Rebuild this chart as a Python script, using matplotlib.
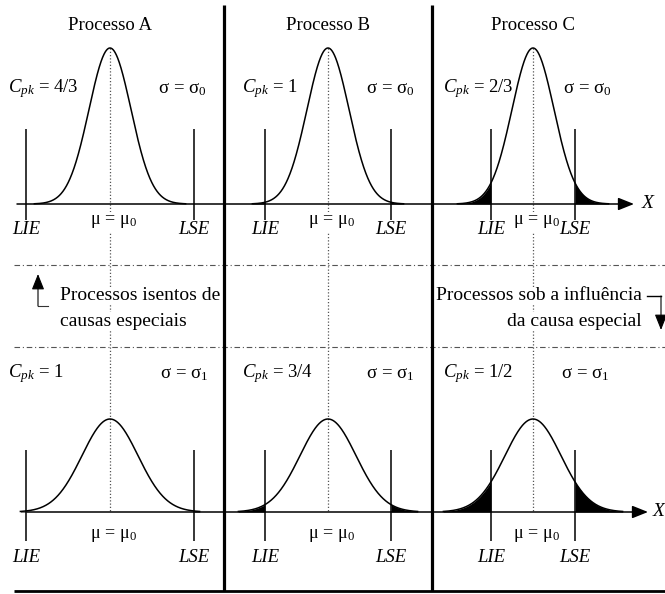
import numpy as np
import matplotlib.pyplot as plt

plt.rcParams['font.family'] = 'Liberation Serif'
plt.rcParams['mathtext.fontset'] = 'custom'
plt.rcParams['mathtext.rm'] = 'Liberation Serif'
plt.rcParams['mathtext.it'] = 'Liberation Serif:italic'

# processes and capability indices
titles = ['Processo A', 'Processo B', 'Processo C']
cpk_top = [4/3, 1, 2/3]
cpk_top_lbl = ['4/3', '1', '2/3']
cpk_bot = [1, 3/4, 1/2]
cpk_bot_lbl = ['1', '3/4', '1/2']
sigma0 = 1.0
sigma1 = 4/3
mu0 = 0.0

W, H = 665, 594
fig = plt.figure(figsize=(W / 100, H / 100), dpi=100)

# page in pixel coordinates, origin top-left
page = fig.add_axes([0, 0, 1, 1])
page.set_xlim(0, W)
page.set_ylim(H, 0)
page.axis('off')

col_edges = [0, 224, 432, 665]
col_mu = [110, 328, 533]
px_sigma = 21  # pixels per sigma0

rows = [
    dict(band=(0, 262), axis=204, peak=156, sig=sigma0, cpk=cpk_top, lbl=cpk_top_lbl,
         sub='0', up=75, down=16, mu_y=222, lim_y=229, txt_y=89, span=3.6,
         sig_x=[182, 390, 587]),
    dict(band=(346, 594), axis=512, peak=93, sig=sigma1, cpk=cpk_bot, lbl=cpk_bot_lbl,
         sub='1', up=62, down=29, mu_y=535, lim_y=557, txt_y=374, span=3.2,
         sig_x=[184, 390, 585]),
]
cpk_x = [8, 242, 443]


def pdf(x, s):
    return np.exp(-0.5 * ((x - mu0) / s) ** 2) / (s * np.sqrt(2 * np.pi))


# dotted centre lines through both rows
for cx in col_mu:
    page.plot([cx, cx], [rows[0]['axis'] - rows[0]['peak'], rows[1]['axis']],
              color='#555555', lw=0.9, ls=(0, (1, 1.6)), zorder=1)

# dash-dot separators of the middle band
for yy in [265, 347]:
    page.plot([14, W], [yy, yy], color='#555555', lw=0.8, ls=(0, (5, 2.5, 1, 2.5)), zorder=1)

arrow = dict(arrowstyle='-|>,head_length=0.8,head_width=0.32', color='black',
             mutation_scale=12, shrinkA=0, shrinkB=0)

# horizontal X axes with arrows
for r, (xa, xb, xl) in zip(rows, [(17, 634, 648), (27, 648, 659)]):
    y = r['axis']
    page.annotate('', xy=(xb, y), xytext=(xa, y), arrowprops=dict(arrow, lw=1.1), zorder=2)
    page.text(xl, y, 'X', style='italic', fontsize=14, ha='center', va='center')

# frame lines
page.vlines([224, 432], 5, 591, color='black', lw=2.3, zorder=3)
page.hlines(591, 14, W, color='black', lw=2.0, zorder=3)

for i, t in enumerate(titles):
    page.text(col_mu[i], 26, t, fontsize=13.5, ha='center', va='center')

for r in rows:
    for i in range(3):
        x0, x1 = col_edges[i], col_edges[i + 1]
        y0, y1 = r['band']
        s = r['sig']
        k = r['peak'] / pdf(mu0, s)
        ax = fig.add_axes([x0 / W, 1 - y1 / H, (x1 - x0) / W, (y1 - y0) / H])
        ax.set_xlim((x0 - col_mu[i]) / px_sigma, (x1 - col_mu[i]) / px_sigma)
        ax.set_ylim(-(y1 - r['axis']) / k, (r['axis'] - y0) / k)
        ax.axis('off')
        ax.patch.set_visible(False)

        # spec limits from Cpk = (LSE - mu) / (3 sigma)
        d = 3 * r['cpk'][i] * s
        lie, lse = mu0 - d, mu0 + d
        x = np.linspace(mu0 - r['span'] * s, mu0 + r['span'] * s, 600)
        ax.plot(x, pdf(x, s), color='black', lw=1.1)
        xl = x[x <= lie]
        xr = x[x >= lse]
        if len(xl):
            xl = np.append(xl, lie)
            ax.fill_between(xl, pdf(xl, s), 0, color='black', lw=0)
        if len(xr):
            xr = np.insert(xr, 0, lse)
            ax.fill_between(xr, pdf(xr, s), 0, color='black', lw=0)

        ax.vlines([lie, lse], -r['down'] / k, r['up'] / k, color='black', lw=1.1)
        ly = -(r['lim_y'] - r['axis']) / k
        ax.text(lie, ly, 'LIE', style='italic', fontsize=13.5, ha='center', va='center')
        ax.text(lse, ly, 'LSE', style='italic', fontsize=13.5, ha='center', va='center')
        ax.text(mu0 + 0.15, -(r['mu_y'] - r['axis']) / k, r'$\mathrm{\mu\,=\,\mu_0}$',
                fontsize=13, ha='center', va='center',
                bbox=dict(fc='white', ec='none', pad=1))

        page.text(cpk_x[i], r['txt_y'], r'$C_{pk}$ = ' + r['lbl'][i], fontsize=13.5,
                  ha='left', va='center')
        page.text(r['sig_x'][i], r['txt_y'], r'$\mathrm{\sigma\,=\,\sigma_%s}$' % r['sub'],
                  fontsize=13.5, ha='center', va='center')

# middle band captions
box = dict(fc='white', ec='none', pad=0.5)
page.text(60, 296, 'Processos isentos de', fontsize=14, ha='left', va='center', bbox=box)
page.text(60, 321, 'causas especiais', fontsize=14, ha='left', va='center', bbox=box)
page.plot([48, 38], [306, 306], color='#333333', lw=0.8)
page.annotate('', xy=(38, 274), xytext=(38, 306), arrowprops=dict(arrow, lw=0.8))

page.text(436, 296, 'Processos sob a influência', fontsize=14, ha='left', va='center', bbox=box)
page.text(642, 321, 'da causa especial', fontsize=14, ha='right', va='center', bbox=box)
page.plot([647, 661], [296, 296], color='black', lw=1.0)
page.annotate('', xy=(661, 330), xytext=(661, 296), arrowprops=dict(arrow, lw=0.8))

fig.savefig('out.png', dpi=100)
